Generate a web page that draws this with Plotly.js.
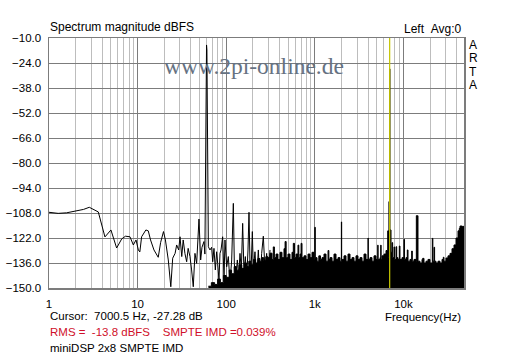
<!DOCTYPE html>
<html>
<head>
<meta charset="utf-8">
<script src="https://cdn.plot.ly/plotly-3.0.1.min.js"></script>
<style>html,body{margin:0;padding:0;background:#fff;}#chart{width:512px;height:358px;}</style>
</head>
<body>
<div id="chart"></div>
<script>
// ---- data ----
// low-frequency part of the spectrum (drawn as a line, 1 Hz .. ~310 Hz)
const lowFreqHz = [1.00,1.27,1.58,2.05,2.45,2.85,3.20,3.60,4.28,5.00,5.80,6.62,7.30,7.80,8.20,8.95,9.60,10.2,10.6,11.1,12.4,13.2,14.0,15.3,17.1,18.2,19.6,20.6,22.2,23.7,24.9,26.5,27.6,29.1,30.1,31.5,32.7,34.2,35.8,37.2,39.0,40.7,42.5,44.4,46.4,49.3,51.5,53.3,56.1,57.5,58.6,59.5,60.0,60.6,61.4,62.9,65.6,68.5,70.4,72.8,75.4,78.0,80.1,82.9,85.1,87.4,91.2,94.5,96.9,101.2,105.7,110.4,115.3,120.4,123.5,127.9,133.6,138.2,143.1,148.2,153.4,158.8,164.4,170.2,176.2,180.8,185.6,190.5,197.2,202.4,211.3,220.7,230.5,240.7,251.4,262.4,274.1,286.2,298.9,312.1];
const lowLevelDb = [-107.6,-108.2,-107.9,-106.9,-106.0,-104.8,-106.0,-107.4,-121.4,-117.5,-127.6,-122.5,-121.0,-121.3,-121.3,-125.9,-123.1,-128.7,-129.8,-121.3,-117.5,-118.0,-123.1,-128.7,-132.8,-124.5,-118.4,-123.1,-134.3,-149.3,-133.3,-130.6,-125.9,-128.7,-121.3,-132.4,-123.1,-130.6,-135.3,-127.8,-132.4,-139.9,-149.3,-130.6,-136.2,-111.4,-134.3,-127.2,-124.0,-131.0,-50.5,-16.0,-13.9,-16.7,-50.0,-126.9,-128.7,-127.2,-135.3,-127.8,-139.9,-129.7,-136.2,-145.5,-130.6,-128.7,-121.3,-144.6,-123.1,-138.1,-132.4,-147.4,-134.3,-102.6,-136.2,-145.5,-134.3,-143.6,-130.6,-139.9,-113.8,-141.8,-132.4,-145.5,-128.7,-107.6,-136.2,-141.8,-118.4,-139.9,-129.7,-145.5,-128.7,-147.4,-130.6,-121.0,-139.9,-130.6,-145.5,-128.7];

// noise floor / upper part of the spectrum (drawn as a filled step outline, 63 Hz .. 48 kHz)
const floorFreqHz = [63,68,74,80,86,93,100,108,115,123,130,140,150,160,170,180,190,203,215,228,240,252,265,280,296,312,329,340,350,365,384,405,426,449,462,475,498,525,553,572,590,614,646,660,681,700,717,755,796,838,883,930,980,1000,1012,1060,1110,1160,1206,1270,1338,1410,1440,1485,1564,1647,1735,1828,1925,1995,2010,2136,2250,2370,2497,2630,2770,2917,3073,3237,3410,3592,3784,3990,4010,4198,4422,4658,4907,5130,5180,5444,5550,5600,5735,6041,6363,6653,6820,6878,6930,7000.5,7040,7250,7437,7560,7834,7950,8252,8400,8690,8990,9150,9643,10157,10300,10699,11070,11270,11871,12410,12600,13170,13873,14000,14400,14614,15394,16213,16515,17079,17990,18950,19960,21195,21500,22147,22500,23335,24576,25888,27270,28200,28720,30254,31870,33574,35363,37250,39240,41335,42760,43537,45860,48310];
const floorLevelDb = [-149,-147,-148,-145,-147,-143,-144,-140,-142,-138,-140,-137,-139,-136,-138,-135,-137,-134,-136,-133.5,-135,-133,-134.5,-132.5,-133,-130.5,-134,-127,-133,-131,-134,-130,-133,-128,-124,-133,-131,-134,-130,-125,-133,-131,-126,-133,-131,-125,-133,-132,-134,-131,-133,-130,-134,-116,-133,-135,-132,-134,-133,-131,-135,-129,-134,-133,-135,-131,-134,-133,-135,-113,-134,-132,-135,-131,-134,-133,-135,-132,-134,-133,-135,-131,-134,-122,-134,-133,-135,-132,-134,-126,-134,-133,-126,-134,-132,-131,-129,-118,-133,-101.6,-131,-27.28,-117.5,-130,-124.6,-133,-127,-134,-126.9,-133,-134,-126.5,-134,-133,-122.8,-134,-133,-128.7,-135,-134,-129.3,-135,-134,-135,-109.5,-109.5,-135,-136,-134,-133.4,-136,-135,-134,-136,-122.2,-135,-127.2,-135,-136,-135,-136,-134,-132.8,-135,-133.2,-132,-130.6,-128,-125.9,-122,-118,-116.6,-115.3,-115.5,-116];

// cursor
const cursorFreqHz = 7000.5;
const cursorLevelDb = -27.28;

// axes
const yMinDb = -150, yMaxDb = -10, yStepDb = 14;
const xMinHz = 1, xMaxHz = 48310;
const xTickVals = [1, 10, 100, 1000, 10000];
const xTickText = ['1', '10', '100', '1k', '10k'];

// ---- chart ----
const FONT = 'Liberation Sans, Arial, sans-serif';
const floorEnds = [floorFreqHz[0], floorFreqHz[floorFreqHz.length - 1]];

const traces = [
  { // baseline for the floor fill
    x: floorEnds, y: [yMinDb, yMinDb], mode: 'lines',
    line: {width: 0, color: 'rgba(0,0,0,0)'}, hoverinfo: 'skip', showlegend: false
  },
  {
    x: floorFreqHz, y: floorLevelDb, mode: 'lines',
    line: {color: '#000000', width: 1, shape: 'hv'},
    fill: 'tonexty', fillcolor: '#000000', showlegend: false
  },
  {
    x: lowFreqHz, y: lowLevelDb, mode: 'lines',
    line: {color: '#000000', width: 1}, showlegend: false
  },
  { // cursor line
    x: [cursorFreqHz, cursorFreqHz], y: [yMinDb, yMaxDb], mode: 'lines',
    line: {color: '#c8c800', width: 1.2}, showlegend: false
  }
];

function px(xp) { return (xp - 49) / 415; }
function py(yp) { return (288 - yp) / 250; }

const ann = (text, xp, yp, xanchor, opts) => Object.assign({
  text: text, xref: 'paper', yref: 'paper', x: px(xp), y: py(yp),
  xanchor: xanchor, yanchor: 'middle', showarrow: false,
  font: {family: FONT, size: 11.5, color: '#000000'}
}, opts || {});

const NB = '\u00A0';

const layout = {
  width: 512, height: 358,
  paper_bgcolor: '#ffffff', plot_bgcolor: '#ffffff',
  margin: {l: 49, r: 48, t: 38, b: 70, pad: 0},
  showlegend: false,
  title: {
    text: 'Spectrum magnitude dBFS',
    font: {family: FONT, size: 12, color: '#000000'},
    x: 50 / 512, xanchor: 'left', xref: 'container',
    y: 1 - 27 / 358, yanchor: 'middle', yref: 'container'
  },
  xaxis: {
    type: 'log',
    range: [Math.log10(xMinHz), Math.log10(xMaxHz)],
    tickmode: 'array', tickvals: xTickVals, ticktext: xTickText,
    showgrid: true, gridcolor: '#7c7c7c', gridwidth: 1,
    minor: {showgrid: true, gridcolor: '#bdbdbd', gridwidth: 1, dtick: 'D1', ticks: ''},
    showline: true, mirror: true, linecolor: '#7c7c7c', linewidth: 1.5,
    ticks: '', ticklabelstandoff: 5,
    tickfont: {family: FONT, size: 11.5, color: '#000000'},
    zeroline: false, fixedrange: true
  },
  yaxis: {
    range: [yMinDb, yMaxDb],
    tick0: yMaxDb, dtick: yStepDb, tickformat: '.1f',
    showgrid: true, gridcolor: '#7c7c7c', gridwidth: 1,
    showline: true, mirror: true, linecolor: '#7c7c7c', linewidth: 1.5,
    ticks: '', ticklabelstandoff: 4,
    tickfont: {family: FONT, size: 11.5, color: '#000000'},
    zeroline: false, fixedrange: true
  },
  annotations: [
    ann('Left' + NB + NB + 'Avg:0', 463, 29, 'right', {font: {family: FONT, size: 12, color: '#000000'}}),
    ann('A', 473, 45, 'center', {font: {family: FONT, size: 12, color: '#000000'}}),
    ann('R', 473, 58.5, 'center', {font: {family: FONT, size: 12, color: '#000000'}}),
    ann('T', 473, 72, 'center', {font: {family: FONT, size: 12, color: '#000000'}}),
    ann('A', 473, 85.5, 'center', {font: {family: FONT, size: 12, color: '#000000'}}),
    ann('www.2pi-online.de', 253.5, 66, 'center', {font: {family: 'Liberation Serif, Times New Roman, serif', size: 23.5, color: '#667282'}}),
    ann('Frequency(Hz)', 463, 316.5, 'right'),
    ann('Cursor:' + NB + NB + cursorFreqHz.toFixed(1) + ' Hz, ' + cursorLevelDb.toFixed(2) + ' dB', 48, 316, 'left'),
    ann('RMS =' + NB + NB + '-13.8 dBFS' + NB + NB + NB + NB + 'SMPTE IMD =0.039%', 48, 332, 'left', {font: {family: FONT, size: 11.5, color: '#d0102a'}}),
    ann('miniDSP 2x8 SMPTE IMD', 48, 347.5, 'left')
  ]
};

Plotly.newPlot('chart', traces, layout, {staticPlot: true, displayModeBar: false});
</script>
</body>
</html>
